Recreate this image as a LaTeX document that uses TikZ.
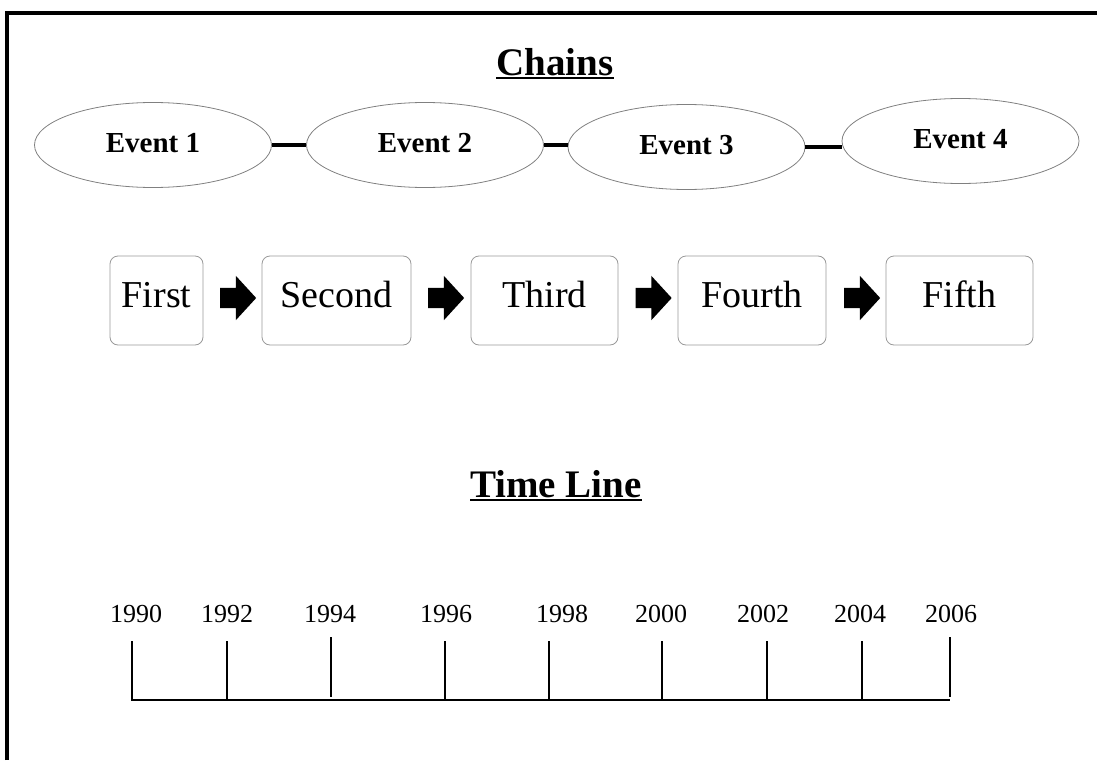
\documentclass[tikz,border=0pt]{standalone}
\usepackage{fontspec}
\setmainfont{Liberation Serif}
\usetikzlibrary{shapes.geometric,shapes.arrows}

\newcommand{\thickul}[1]{\leavevmode\vtop{\hbox{#1}\kern2pt\hrule height 2pt}}

\tikzset{
  event/.style={ellipse, draw=gray, line width=0.8pt, minimum width=237pt, minimum height=85pt, inner sep=0pt,
    font=\fontsize{29}{30}\selectfont\bfseries, text height=18pt, text depth=4pt},
  stage/.style={rectangle, rounded corners=8pt, draw=gray!80, line width=0.8pt, minimum height=89pt, inner sep=0pt,
    font=\fontsize{38}{40}\selectfont, text height=22pt, text depth=8pt},
  blockarrow/.style={single arrow, fill=black, draw=none, minimum height=36pt, inner xsep=0pt, inner ysep=10pt,
    single arrow head extend=12pt, single arrow tip angle=95},
  title/.style={anchor=base, font=\fontsize{39}{40}\selectfont\bfseries},
  year/.style={anchor=base, font=\fontsize{26}{27}\selectfont},
  link/.style={line width=4pt},
  yeartick/.style={line width=1.5pt}
}

\begin{document}
\begin{tikzpicture}[x=1pt, y=-1pt]
\useasboundingbox (0,0) rectangle (1097,760);
\draw[line width=4pt] (7,760) -- (7,13) -- (1097,13);

% chains
\node[title] (chains) at (555,75) {\thickul{Chains}};

\node[event] (e1) at (153,145) {Event 1};
\node[event] (e2) at (425,145) {Event 2};
\node[event] (e3) at (686.5,147) {Event 3};
\node[event] (e4) at (960.5,141) {Event 4};

\draw[link] (e1.east) -- (e1.east -| e2.west);
\draw[link] (e2.east) -- (e2.east -| e3.west);
\draw[link] (e3.east) -- (e3.east -| e4.west);

\node[stage, minimum width=93pt] (first) at (156.5,300.5) {First};
\node[stage, minimum width=149pt] (second) at (336.5,300.5) {Second};
\node[stage, minimum width=147pt] (third) at (544.5,300.5) {Third};
\node[stage, minimum width=148pt] (fourth) at (752,300.5) {Fourth};
\node[stage, minimum width=147pt] (fifth) at (959.5,300.5) {Fifth};

\node[blockarrow] (a1) at (233.5,298) {};
\node[blockarrow] (a2) at (441.5,298) {};
\node[blockarrow] (a3) at (649,298) {};
\node[blockarrow] (a4) at (857.5,298) {};

% time line
\node[title] (timeline) at (556,497) {\thickul{Time Line}};

\node[year] (y1990) at (136,622) {1990};
\node[year] (y1992) at (227,622) {1992};
\node[year] (y1994) at (330,622) {1994};
\node[year] (y1996) at (446,622) {1996};
\node[year] (y1998) at (562,622) {1998};
\node[year] (y2000) at (661,622) {2000};
\node[year] (y2002) at (763,622) {2002};
\node[year] (y2004) at (860,622) {2004};
\node[year] (y2006) at (951,622) {2006};

\draw[yeartick] (132,641) -- (132,700) -- (950,700);
\draw[yeartick] (227,641) -- (227,700);
\draw[yeartick] (331,637) -- (331,697);
\draw[yeartick] (445,641) -- (445,700);
\draw[yeartick] (549,641) -- (549,700);
\draw[yeartick] (662,641) -- (662,700);
\draw[yeartick] (767,641) -- (767,700);
\draw[yeartick] (862,641) -- (862,700);
\draw[yeartick] (950,637) -- (950,697);
\end{tikzpicture}
\end{document}
